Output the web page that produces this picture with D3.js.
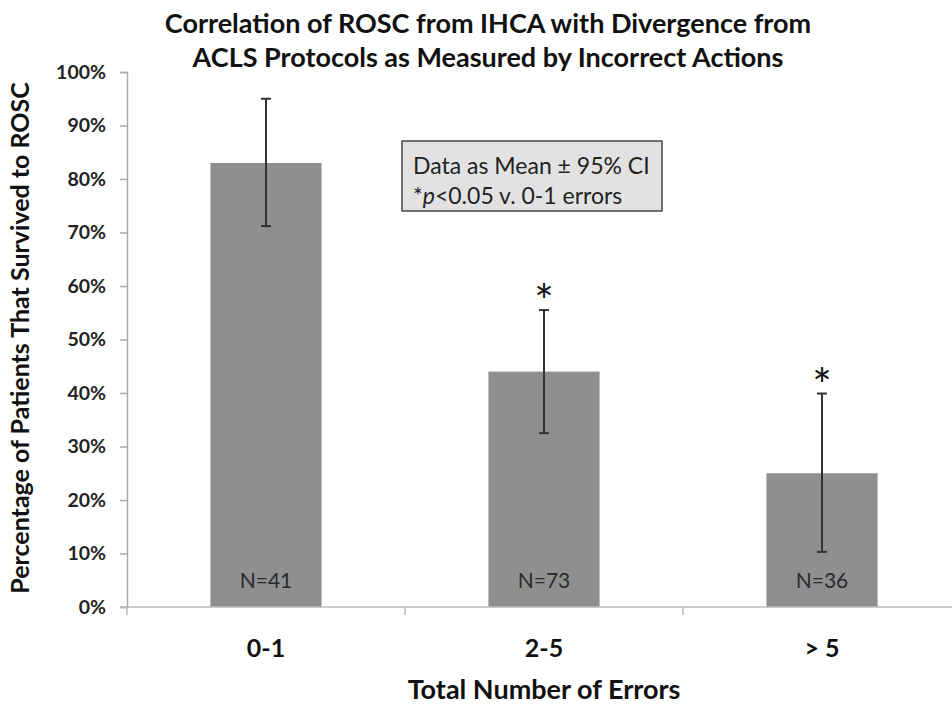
<!DOCTYPE html>
<html><head><meta charset="utf-8">
<script src="https://cdn.jsdelivr.net/npm/d3@7"></script>
<style>body{margin:0;background:#fff}svg{display:block;font-family:Lato,"Open Sans",sans-serif}</style>
</head><body><svg id="c" width="952" height="704"></svg>
<script>
const categories = ["0-1", "2-5", "> 5"];
const means = [83, 44, 25];
const ciLow = [71.2, 32.5, 10.3];
const ciHigh = [95, 55.5, 39.9];
const nLabels = ["N=41", "N=73", "N=36"];
const significant = [false, true, true];
const yTicks = [0,10,20,30,40,50,60,70,80,90,100];
const titleLines = ["Correlation of ROSC from IHCA with Divergence from", "ACLS Protocols as Measured by Incorrect Actions"];
const legendLines = ["Data as Mean \u00b1 95% CI", "*p<0.05 v. 0-1 errors"];

const svg = d3.select("#c");
const x = d3.scaleBand().domain(categories).range([127, 961]).paddingInner(0.6).paddingOuter(0.3);
const y = d3.scaleLinear().domain([0, 100]).range([607, 72]);

// title
svg.append("g").selectAll("text").data(titleLines).join("text")
  .attr("x", 488).attr("y", (d,i) => 33 + i*34)
  .attr("text-anchor", "middle").attr("font-size", 27).attr("font-weight", "bold").attr("fill", "#111")
  .text(d => d);

// bars
svg.append("g").selectAll("rect").data(categories).join("rect")
  .attr("x", d => x(d)).attr("width", x.bandwidth())
  .attr("y", (d,i) => y(means[i])).attr("height", (d,i) => y(0) - y(means[i]))
  .attr("fill", "#8f8f8f");

// N labels
svg.append("g").selectAll("text").data(categories).join("text")
  .attr("x", d => x(d) + x.bandwidth()/2).attr("y", 588)
  .attr("text-anchor", "middle").attr("font-size", 21).attr("fill", "#2a2a2a")
  .text((d,i) => nLabels[i]);

// error bars
const eb = svg.append("g").attr("stroke", "#333").attr("stroke-width", 2);
categories.forEach((c,i) => {
  const cx = x(c) + x.bandwidth()/2;
  eb.append("line").attr("x1", cx).attr("x2", cx).attr("y1", y(ciLow[i])).attr("y2", y(ciHigh[i]));
  eb.append("line").attr("x1", cx-5).attr("x2", cx+5).attr("y1", y(ciLow[i])).attr("y2", y(ciLow[i]));
  eb.append("line").attr("x1", cx-5).attr("x2", cx+5).attr("y1", y(ciHigh[i])).attr("y2", y(ciHigh[i]));
  if (significant[i]) {
    svg.append("text").attr("x", cx).attr("y", y(ciHigh[i]) + 8)
      .attr("text-anchor", "middle").attr("font-size", 46).attr("fill", "#111").text("*");
  }
});

// y axis
const yAxis = svg.append("g").attr("transform", "translate(127,0)")
  .call(d3.axisLeft(y).tickValues(yTicks).tickFormat(d => d + "%").tickSize(7).tickPadding(14));
yAxis.select(".domain").attr("stroke", "#aaa").attr("stroke-width", 1.5);
yAxis.selectAll(".tick line").attr("stroke", "#aaa").attr("stroke-width", 1.5);
yAxis.selectAll(".tick text").attr("font-size", 19.5).attr("font-weight", "bold").attr("fill", "#222").attr("font-family", "Lato");

// x axis
svg.append("line").attr("x1", 120).attr("x2", 952).attr("y1", y(0)).attr("y2", y(0)).attr("stroke", "#bbb").attr("stroke-width", 1.5);
const seps = [127].concat(categories.slice(1).map(c => x(c) - x.step()*x.paddingInner()/2));
svg.append("g").selectAll("line").data(seps).join("line")
  .attr("x1", d => d).attr("x2", d => d).attr("y1", y(0)).attr("y2", y(0) + 8)
  .attr("stroke", "#bbb").attr("stroke-width", 1.5);
svg.append("g").selectAll("text").data(categories).join("text")
  .attr("x", d => x(d) + x.bandwidth()/2).attr("y", 657)
  .attr("text-anchor", "middle").attr("font-size", 25).attr("font-weight", "bold").attr("fill", "#111")
  .text(d => d);

// axis titles
svg.append("text").attr("x", 544).attr("y", 699).attr("text-anchor", "middle")
  .attr("font-size", 27).attr("font-weight", "bold").attr("fill", "#111").text("Total Number of Errors");
svg.append("text").attr("transform", "translate(29,338) rotate(-90)").attr("text-anchor", "middle")
  .attr("font-size", 25).attr("font-weight", "bold").attr("fill", "#111").text("Percentage of Patients That Survived to ROSC");

// legend box
const lg = svg.append("g");
lg.append("rect").attr("x", 402).attr("y", 141).attr("width", 260).attr("height", 70)
  .attr("fill", "#e2e2e2").attr("stroke", "#444").attr("stroke-width", 1.5);
lg.append("text").attr("x", 413).attr("y", 174).attr("font-size", 23).attr("fill", "#222").text(legendLines[0]);
const t2 = lg.append("text").attr("x", 413).attr("y", 204).attr("font-size", 23).attr("fill", "#222");
t2.append("tspan").text("*");
t2.append("tspan").attr("font-style", "italic").text("p");
t2.append("tspan").text(legendLines[1].slice(2));
</script></body></html>
